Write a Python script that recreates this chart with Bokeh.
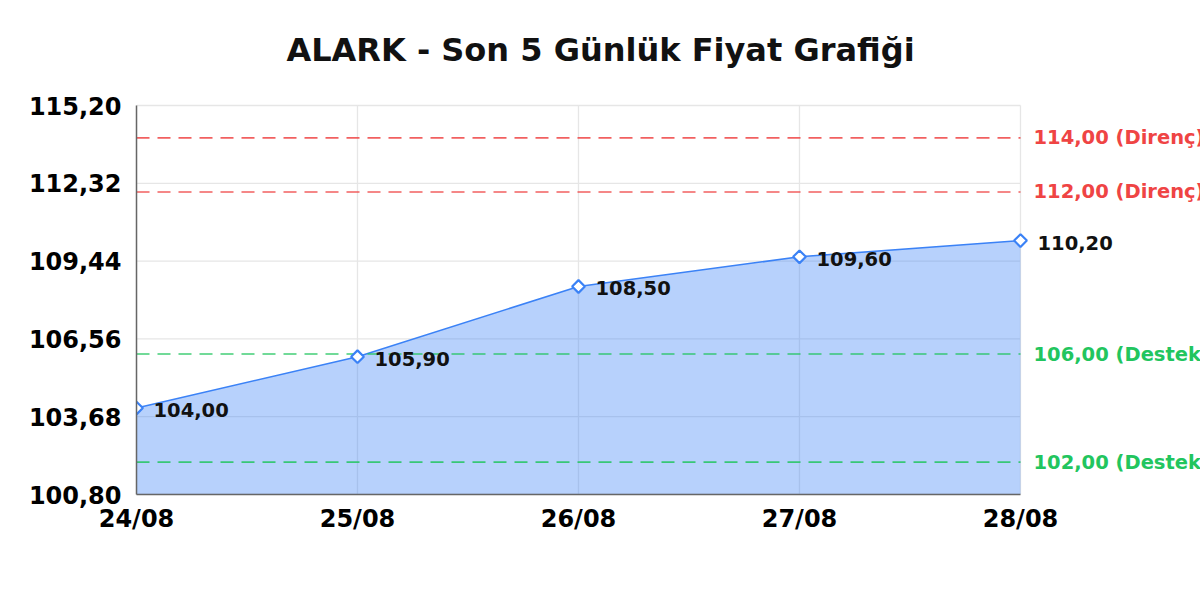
import math
from bokeh.plotting import figure
from bokeh.models import ColumnDataSource, FixedTicker, Range1d
from bokeh.core.properties import value
from bokeh.embed import file_html
from bokeh.resources import INLINE

title_text = "ALARK - Son 5 Günlük Fiyat Grafiği"
dates = ["24/08", "25/08", "26/08", "27/08", "28/08"]
prices = [104.00, 105.90, 108.50, 109.60, 110.20]
resistance_levels = [114.00, 112.00]
support_levels = [106.00, 102.00]
y_ticks = [100.80, 103.68, 106.56, 109.44, 112.32, 115.20]

FONT = value("DejaVu Sans")
BLUE = "#3B82F6"
RED = "#EF4444"
GREEN = "#22C55E"
GRID = "#E6E6E6"

W, H = 1200, 600
LEFT, BOTTOM = 136, 106          # axis panels
PLOT_RIGHT_PX, PLOT_TOP_PX = 1020, 105   # chart area right / top in page pixels


def tr(v):
    return f"{v:.2f}".replace(".", ",")


n = len(dates)
idx = list(range(n))
x0, x1 = 0, n - 1
y0, y1 = y_ticks[0], y_ticks[-1]

# frame spans to the right and top edges; scales chosen so the chart area sits where it should
px_per_x = (PLOT_RIGHT_PX - LEFT) / (x1 - x0)
px_per_y = ((H - BOTTOM) - PLOT_TOP_PX) / (y1 - y0)
x_end = x1 + (W - PLOT_RIGHT_PX) / px_per_x
y_end = y1 + PLOT_TOP_PX / px_per_y


def px_to_x(px):
    return x0 + (px - LEFT) / px_per_x


def py_to_y(py):
    return y1 + (PLOT_TOP_PX - py) / px_per_y


src = ColumnDataSource(dict(x=idx, y=prices, base=[y0] * n, lab=[tr(v) for v in prices]))

p = figure(width=W, height=H, output_backend="svg", toolbar_location=None,
           x_range=Range1d(x0, x_end), y_range=Range1d(y0, y_end),
           min_border_left=LEFT, min_border_right=0, min_border_top=0, min_border_bottom=BOTTOM)
p.outline_line_color = None
p.background_fill_color = "white"
p.border_fill_color = "white"
p.xgrid.visible = False
p.ygrid.visible = False

# axes
p.xaxis.ticker = FixedTicker(ticks=idx)
p.xaxis.major_label_overrides = {i: d for i, d in zip(idx, dates)}
p.xaxis.bounds = (x0, x1)
p.yaxis.ticker = FixedTicker(ticks=y_ticks)
p.yaxis.major_label_overrides = {v: tr(v) for v in y_ticks}
p.yaxis.bounds = (y0, y1)
for ax in (p.xaxis, p.yaxis):
    ax.major_tick_line_color = None
    ax.minor_tick_line_color = None
    ax.axis_line_color = "#666666"
    ax.axis_line_width = 1.5
    ax.major_label_text_font = "DejaVu Sans"
    ax.major_label_text_font_style = "bold"
    ax.major_label_text_font_size = "24px"
    ax.major_label_text_color = "#000000"
p.yaxis.major_label_standoff = 9
p.xaxis.major_label_standoff = 4

# grid lines (limited to the chart area)
p.segment(x0=[x0] * len(y_ticks), x1=[x1] * len(y_ticks), y0=y_ticks, y1=y_ticks,
          line_color=GRID, line_width=1.3, level="underlay")
p.segment(x0=idx, x1=idx, y0=[y0] * n, y1=[y1] * n,
          line_color=GRID, line_width=1.3, level="underlay")

# area + line
p.varea(x="x", y1="base", y2="y", source=src, fill_color=BLUE, fill_alpha=0.37)
p.line(x="x", y="y", source=src, line_color=BLUE, line_width=1.6)

# support / resistance lines + right labels
lv_all = resistance_levels + support_levels
cols = [RED] * len(resistance_levels) + [GREEN] * len(support_levels)
labs = [f"{tr(v)} (Direnç)" for v in resistance_levels] + [f"{tr(v)} (Destek)" for v in support_levels]
lsrc = ColumnDataSource(dict(x0=[x0] * len(lv_all), x1=[x1] * len(lv_all), y=lv_all, c=cols, t=labs))
p.segment(x0="x0", x1="x1", y0="y", y1="y", source=lsrc, line_color="c", line_dash="13 8",
          line_width=1.6, line_alpha=0.85)
p.text(x="x1", y="y", text="t", source=lsrc, x_offset=13, text_color="c", text_font=FONT,
       text_font_style="bold", text_font_size="19.5px", text_baseline="middle")

# markers (diamond = rotated square)
p.scatter(x="x", y="y", source=src, marker="square", angle=math.pi / 4, size=9,
          fill_color="white", line_color=BLUE, line_width=2.2)

# point value labels
p.text(x="x", y="y", text="lab", source=src, x_offset=17, y_offset=2,
       text_font=FONT, text_font_style="bold", text_font_size="19.5px",
       text_color="#111111", text_baseline="middle")

# title
p.text(x=[px_to_x(W / 2)], y=[py_to_y(49)], text=[title_text], text_align="center",
       text_baseline="middle", text_font=FONT, text_font_style="bold",
       text_font_size="32px", text_color="#111111")

open("out.html", "w").write(file_html(p, INLINE))
